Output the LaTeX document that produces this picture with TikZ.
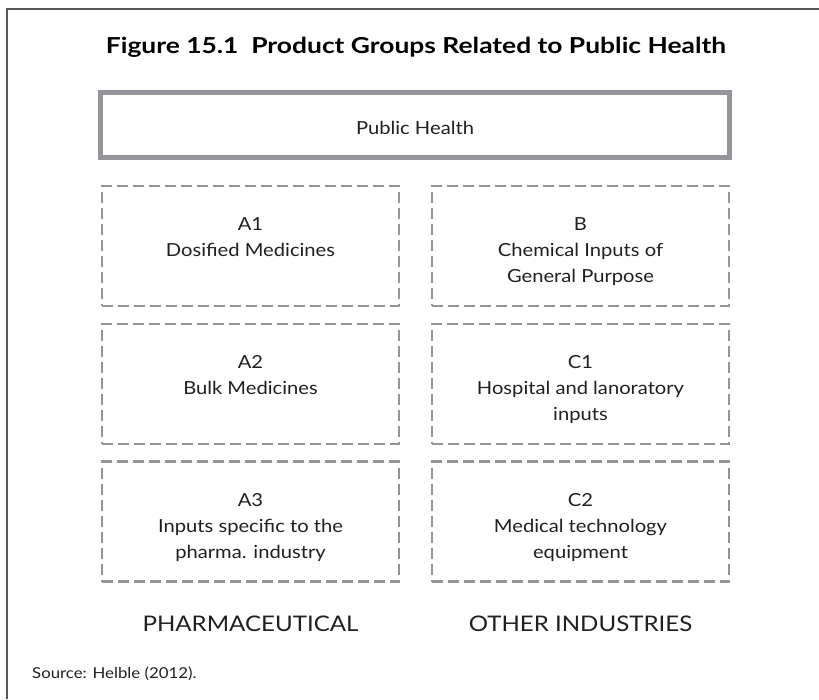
\documentclass[tikz,border=0pt]{standalone}
\usepackage{fontspec}
\setmainfont{Lato}[FakeStretch=1.12]
\newfontfamily\titlefont{Lato}[FakeStretch=1.2]
\definecolor{boxgray}{HTML}{939598}
\definecolor{ink}{HTML}{231F20}
\definecolor{framecol}{HTML}{58595B}
\tikzset{
  groupbox/.style={draw=boxgray, line width=2.8pt, dash pattern=on 11pt off 5pt, minimum width=297pt, minimum height=120pt, inner sep=0pt},
  boxtext/.style={anchor=north, inner sep=0pt, align=center, text=ink, font=\fontsize{18}{26}\selectfont},
  footlabel/.style={anchor=base, inner sep=0pt, text=ink, font=\fontsize{21.5}{24}\selectfont},
}
\begin{document}
\begin{tikzpicture}[x=1pt,y=-1pt]
\useasboundingbox (0,0) rectangle (819,699);
\fill[white] (0,0) rectangle (819,699);
\draw[framecol, line width=1.2pt] (7,699) -- (7,9) -- (819,9);

\node[anchor=base, inner sep=0pt, text=black, font=\titlefont\fontsize{22}{26}\bfseries\selectfont] (title) at (416,53) {Figure 15.1\ \ Product Groups Related to Public Health};

\node[draw=boxgray, line width=5pt, minimum width=629pt, minimum height=65pt, inner sep=0pt] (ph) at (415,125) {};
\node[anchor=base, inner sep=0pt, text=ink, font=\fontsize{18}{26}\selectfont] (phtext) at ([yshift=-9pt]ph.center) {Public Health};

\node[groupbox] (a1) at (250.5,246) {};
\node[groupbox] (a2) at (250.5,384) {};
\node[groupbox] (a3) at (250.5,521.5) {};
\node[groupbox] (b)  at (580.5,246) {};
\node[groupbox] (c1) at (580.5,384) {};
\node[groupbox] (c2) at (580.5,521.5) {};

\node[boxtext] (a1t) at (250.5,217) {A1\\Dosified Medicines};
\node[boxtext] (a2t) at (250.5,355) {A2\\Bulk Medicines};
\node[boxtext] (a3t) at (250.5,493) {A3\\Inputs specific to the\\pharma. industry};
\node[boxtext] (bt)  at (580.5,217) {B\\Chemical Inputs of\\General Purpose};
\node[boxtext] (c1t) at (580.5,355) {C1\\Hospital and lanoratory\\inputs};
\node[boxtext] (c2t) at (580.5,493) {C2\\Medical technology\\equipment};

\node[footlabel] (pharma) at (250.5,631) {PHARMACEUTICAL};
\node[footlabel] (other) at (580.5,631) {OTHER INDUSTRIES};

\node[anchor=base west, inner sep=0pt, text=ink, font=\fontsize{15}{18}\selectfont] (src) at (32,678) {Source: Helble (2012).};
\end{tikzpicture}
\end{document}
